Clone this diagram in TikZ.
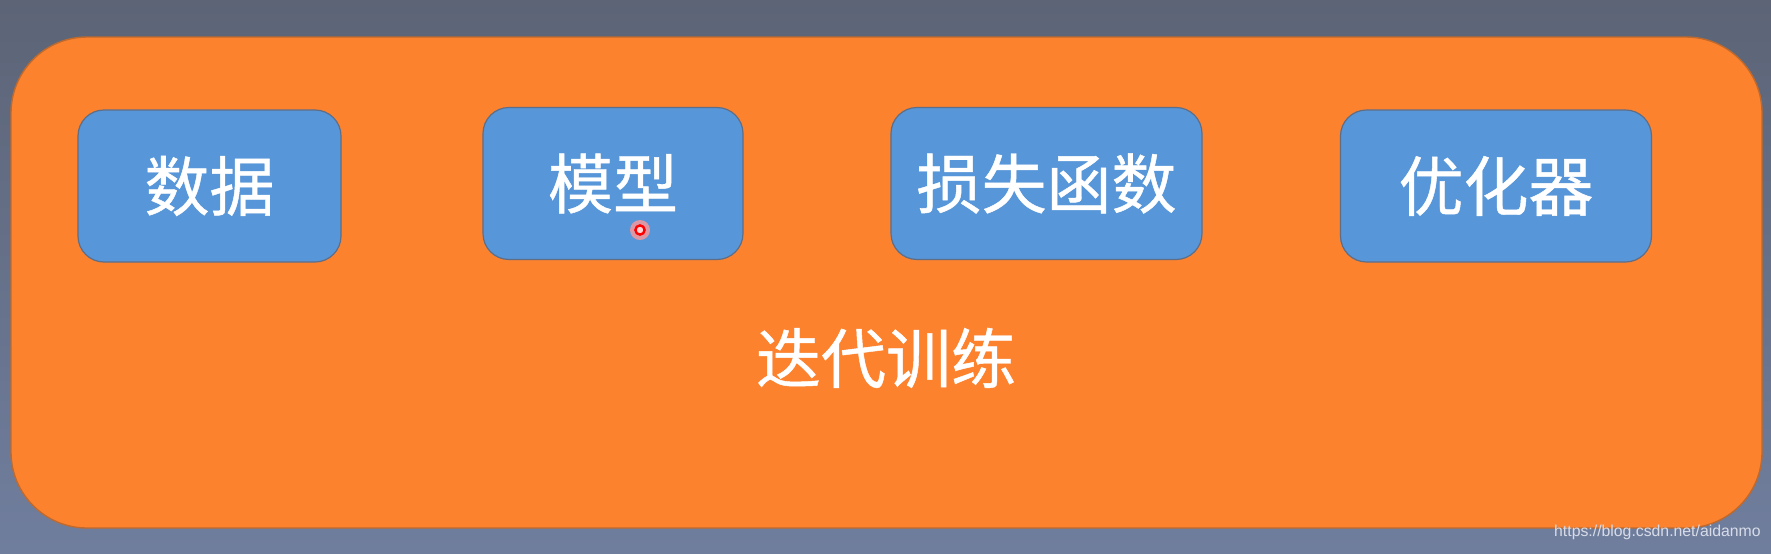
\documentclass[tikz,border=0pt]{standalone}
\usepackage{fontspec}
\setsansfont{Liberation Sans}
\newfontfamily\cjk{Noto Sans CJK SC}[FakeBold=0.7]
\usepackage{tikz}
\usetikzlibrary{positioning}

\definecolor{bgtop}{RGB}{92,100,118}
\definecolor{bgbot}{RGB}{112,126,158}
\definecolor{orangefill}{RGB}{252,130,46}
\definecolor{orangeline}{RGB}{190,105,45}
\definecolor{bluefill}{RGB}{87,150,216}
\definecolor{blueline}{RGB}{95,110,135}
\definecolor{marktext}{RGB}{215,220,232}

\begin{document}
\begin{tikzpicture}[x=0.5pt,y=-0.5pt,
            part/.style={draw=blueline,line width=0.6pt,fill=bluefill,rounded corners=13pt,
                inner sep=0pt,minimum height=76pt,text=white,
                font=\cjk\fontsize{32.5}{39}\selectfont},
            looptext/.style={text=white,font=\cjk\fontsize{32.5}{39}\selectfont},
        ]
        \shade[top color=bgtop,bottom color=bgbot] (0,0) rectangle (1771,553);
        \useasboundingbox (0,0) rectangle (1771,553);
        \node[draw=orangeline,line width=0.7pt,fill=orangefill,rounded corners=38pt,
            minimum width=875.5pt,minimum height=245.5pt] (loop) at (886.5,282.5) {};
        \node[part,minimum width=131.5pt] (data) at (209.5,186) {数据};
        \node[part,minimum width=130pt] (model) at (613,183.5) {模型};
        \node[part,minimum width=155.5pt] (loss) at (1046.5,183.5) {损失函数};
        \node[part,minimum width=155.5pt] (optim) at (1496,186) {优化器};
        \node[looptext] (train) at (886,358) {迭代训练};
        % pointer
        \fill[red!40!white,opacity=0.8] (640,230) circle (5pt);
        \draw[red,line width=1.2pt,fill=red!15!white] (640,230) circle (2.3pt);
        \node[anchor=east,text=marktext,font=\sffamily\fontsize{7.9}{9}\selectfont,inner sep=0pt] (url) at (1761,532) {https://blog.csdn.net/aidanmo};
    \end{tikzpicture}
\end{document}
